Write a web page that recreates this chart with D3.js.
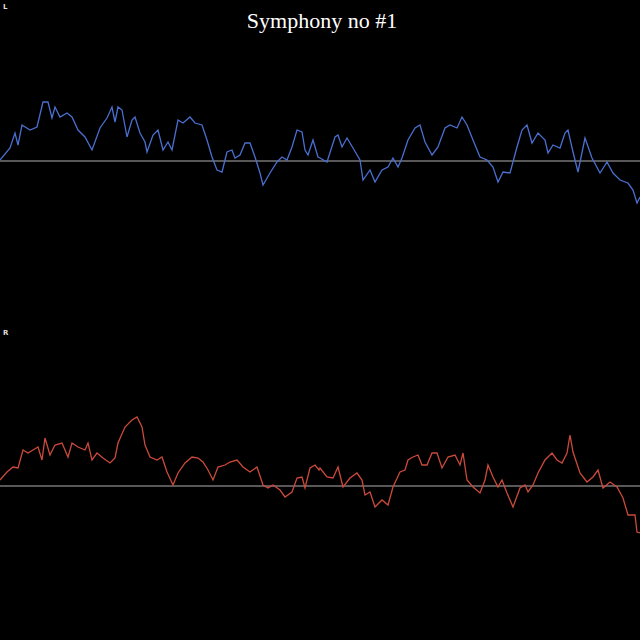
<!DOCTYPE html>
<html>
<head>
<meta charset="utf-8">
<script src="https://cdn.jsdelivr.net/npm/d3@7"></script>
<style>
  body { margin: 0; background: #000; }
</style>
</head>
<body>
<div id="chart"></div>
<script>
var title = "Symphony no #1";
var channelNames = ["L", "R"];

// time positions (sample index along width) and amplitudes
var leftTime = [0,10,15,18,22,30,37,43,48,52,55,60,67,72,78,85,92,100,107,112,115,118,122,127,132,135,140,145,147,153,158,163,168,172,178,183,190,195,202,207,212,217,222,227,232,235,240,245,250,255,260,263,270,277,282,287,292,297,302,305,308,313,318,
  320,327,335,338,342,347,353,360,363,370,375,382,388,393,398,402,408,415,420,425,432,438,445,450,457,462,467,473,480,487,493,498,503,510,517,522,527,532,538,545,548,553,560,565,568,573,578,585,592,600,607,613,620,628,633,637,640];
var leftAmp = [1,13,28,16,36,31,34,59,59,43,54,44,48,44,31,24,11,33,43,54,39,54,51,24,41,44,28,19,9,26,31,11,19,11,41,38,44,38,36,21,4,-9,-11,9,11,3,6,18,18,4,-12,-24,-12,-1,4,1,14,31,29,11,6,21,4,
  3,-1,24,26,14,23,13,1,-19,-9,-21,-9,-6,3,-6,3,21,33,36,19,6,14,33,36,33,44,36,21,4,1,-6,-21,-11,-12,14,31,36,18,28,21,8,16,13,28,31,9,-11,23,3,-12,-1,-12,-19,-22,-29,-42,-36];

var rightTime = [0,7,13,18,23,28,33,38,42,45,50,55,62,68,72,78,85,88,92,97,103,110,115,118,125,132,137,142,145,150,157,162,167,173,178,185,192,198,203,208,213,218,225,230,237,243,250,257,263,268,273,280,285,292,297,302,305,310,315,319,
  320,327,333,338,343,350,357,362,365,370,375,382,388,393,400,405,408,413,418,422,427,432,437,442,448,455,460,463,467,473,480,485,488,493,498,502,507,513,520,525,528,533,538,545,552,557,562,567,570,573,580,587,593,598,603,610,617,623,628,635,637,640];
var rightAmp = [6,14,19,18,36,33,36,39,26,48,31,41,43,29,43,39,36,43,26,33,28,23,28,43,59,66,69,59,41,29,26,29,14,1,13,23,29,28,24,16,6,19,21,24,26,19,14,19,1,-2,1,-4,-11,-6,8,9,-2,18,21,16,
  18,9,8,19,-1,8,13,6,-9,-6,-21,-14,-19,-1,14,16,26,29,31,21,21,33,33,18,29,31,21,33,6,-1,-7,6,21,9,-1,6,-7,-21,-2,1,-6,1,13,26,33,26,23,33,51,34,13,4,9,16,-2,4,-1,-12,-29,-29,-46,-47];

var width = 640, height = 640;

var svg = d3.select("#chart").append("svg")
  .attr("width", width).attr("height", height)
  .style("background", "#000");

svg.append("text")
  .attr("x", 322).attr("y", 28)
  .attr("text-anchor", "middle")
  .attr("fill", "#fff")
  .attr("font-family", "Liberation Serif, serif")
  .attr("font-size", 22)
  .text(title);

var x = d3.scaleLinear().domain([0, 640]).range([0, width]);

var channels = [
  { name: channelNames[0], time: leftTime, amp: leftAmp, base: 161, labelY: 9, color: "#4a6fd0" },
  { name: channelNames[1], time: rightTime, amp: rightAmp, base: 486, labelY: 335, color: "#cc4a3c" }
];

channels.forEach(function (c) {
  var y = d3.scaleLinear().domain([-100, 100]).range([c.base + 100, c.base - 100]);

  svg.append("text")
    .attr("x", 3).attr("y", c.labelY)
    .attr("fill", "#ddd")
    .attr("font-family", "DejaVu Sans, sans-serif")
    .attr("font-size", 7)
    .attr("font-weight", "bold")
    .text(c.name);

  svg.append("line")
    .attr("x1", 0).attr("x2", width)
    .attr("y1", y(0)).attr("y2", y(0))
    .attr("stroke", "#b0b0b0")
    .attr("stroke-width", 1);

  var line = d3.line()
    .x(function (d, i) { return x(c.time[i]); })
    .y(function (d) { return y(d); });

  svg.append("path")
    .datum(c.amp)
    .attr("d", line)
    .attr("fill", "none")
    .attr("stroke", c.color)
    .attr("stroke-width", 1.3);
});
</script>
</body>
</html>
